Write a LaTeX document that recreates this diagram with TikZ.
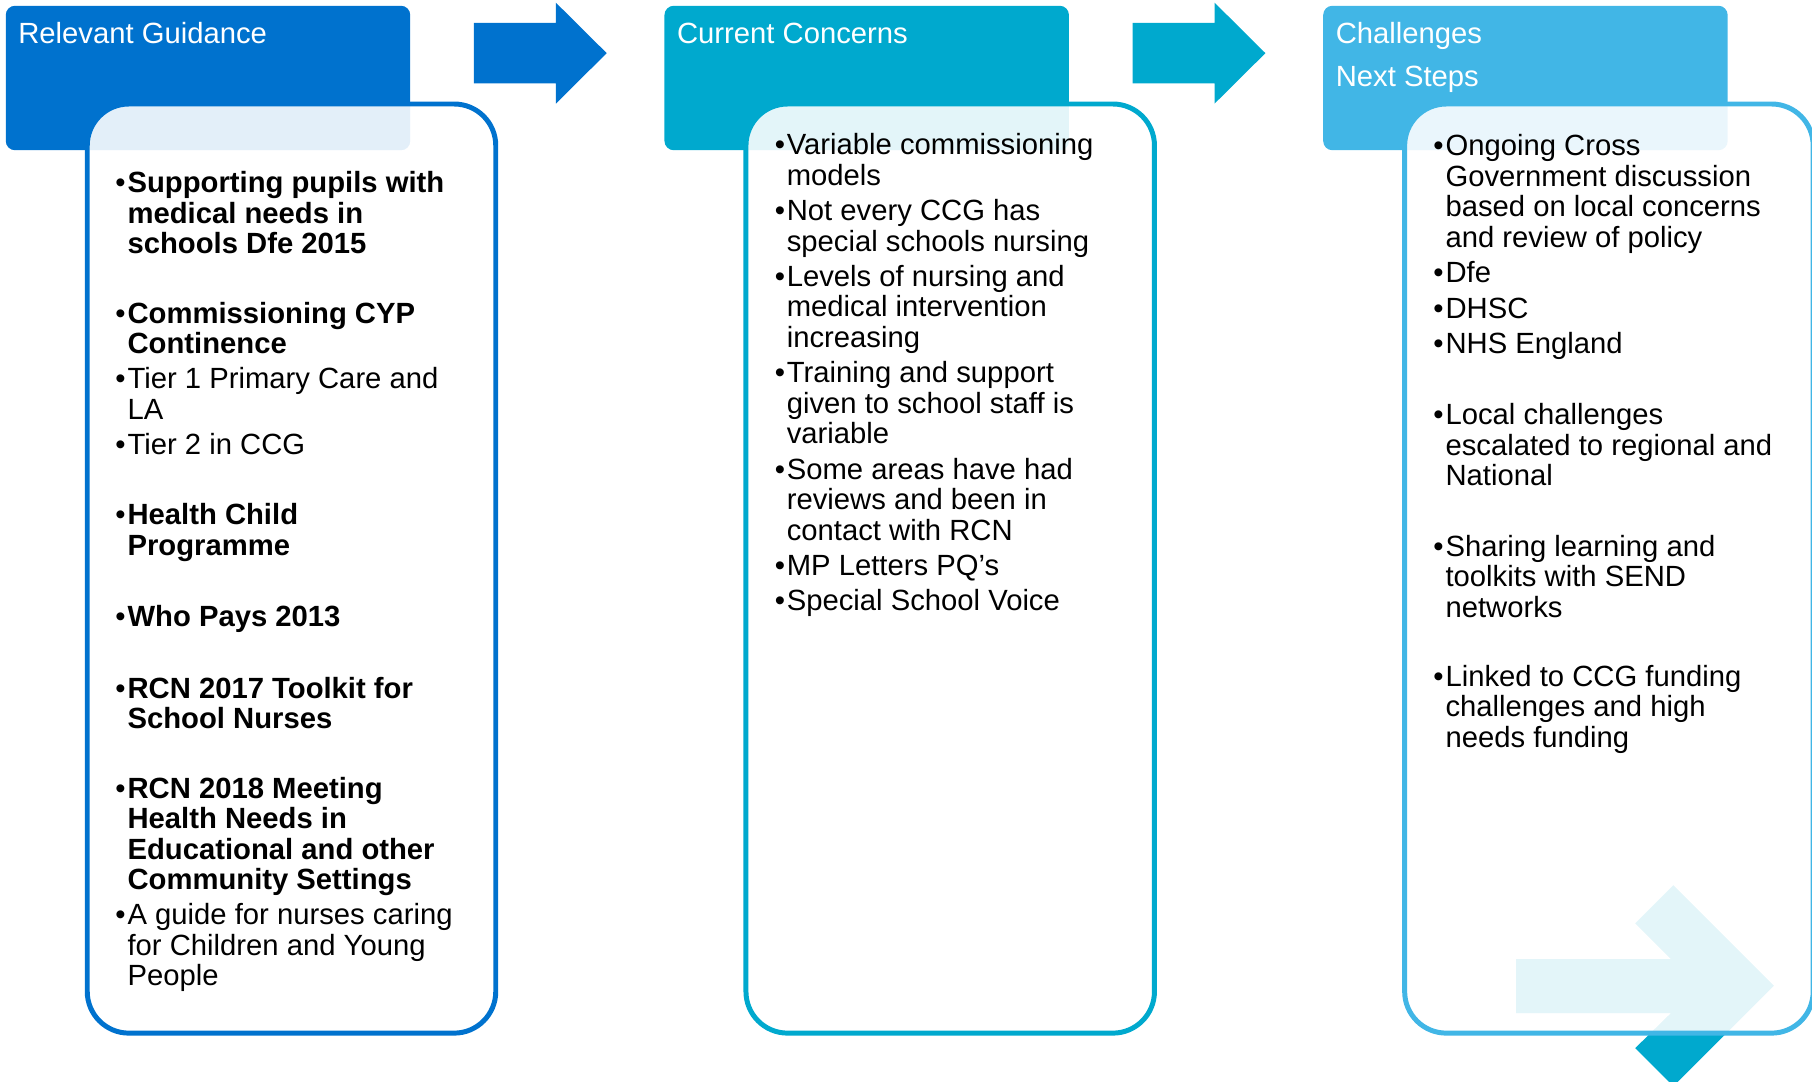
\documentclass[tikz,border=0pt]{standalone}
\usepackage{fontspec}
\setmainfont{Liberation Sans}

\definecolor{guideblue}{HTML}{0072CE}
\definecolor{concerncyan}{HTML}{00A9CE}
\definecolor{stepsky}{HTML}{41B6E6}

\newcommand\bodyfont{\fontsize{12.65pt}{13.2pt}\selectfont}
\newcommand\blt{\leavevmode\llap{•\kern0.8pt}}
\newcommand\itm[1]{\parbox[t]{200pt}{\bodyfont\raggedright\blt#1}}

\begin{document}
\begin{tikzpicture}[
  x=0.5pt, y=-0.5pt,
  hdr/.style={rectangle, rounded corners=4pt, minimum width=175pt,
    minimum height=62.5pt, inner sep=0pt, draw=none},
  hdrtext/.style={anchor=base west, inner sep=0pt, text=white, font=\bodyfont},
  panel/.style={rectangle, rounded corners=18pt, minimum width=176.75pt,
    minimum height=402pt, inner sep=0pt, line width=2.15pt,
    fill=white, fill opacity=0.89, draw opacity=1},
  entry/.style={anchor=base west, inner sep=0pt, yshift=-0.6pt},
]
\useasboundingbox (0,0) rectangle (1568,936);
\clip (0,0) rectangle (1568,936);

% header tabs
\node[hdr, fill=guideblue]   (hg) at (180,67.5)  {};
\node[hdr, fill=concerncyan] (hc) at (750,67.5)  {};
\node[hdr, fill=stepsky]     (hs) at (1320,67.5) {};

% block arrows between the tabs
\fill[guideblue] (410,19.8) -- (481,19.8) -- (481,2.3) -- (525,46)
  -- (481,89.7) -- (481,72.2) -- (410,72.2) -- cycle;
\fill[concerncyan, shift={(570,0)}] (410,19.8) -- (481,19.8) -- (481,2.3) -- (525,46)
  -- (481,89.7) -- (481,72.2) -- (410,72.2) -- cycle;

% arrow mark behind the last panel
\fill[concerncyan] (1312,830) -- (1446,830) -- (1415,799) -- (1448,766)
  -- (1535,853) -- (1448,940) -- (1415,907) -- (1446,876.6)
  -- (1312,876.6) -- cycle;

% content panels
\node[panel, draw=guideblue]   (pg) at (252.25,492)  {};
\node[panel, draw=concerncyan] (pc) at (822.25,492)  {};
\node[panel, draw=stepsky]     (ps) at (1392.25,492) {};

% tab titles
\node[hdrtext] (tg)  at (15.5,37.5)   {Relevant Guidance};
\node[hdrtext] (tc)  at (585.5,37.5)  {Current Concerns};
\node[hdrtext] (ts1) at (1155.5,37.5) {Challenges};
\node[hdrtext] (ts2) at (1155.5,75)   {Next Steps};

% Relevant Guidance
\node[entry] (g1) at (110,165.5) {\itm{\bfseries Supporting pupils with\\medical needs in\\schools Dfe 2015}};
\node[entry] (g2) at (110,278.4) {\itm{\bfseries Commissioning CYP\\Continence}};
\node[entry] (g3) at (110,335.2) {\itm{Tier 1 Primary Care and\\LA}};
\node[entry] (g4) at (110,392.3) {\itm{Tier 2 in CCG}};
\node[entry] (g5) at (110,453)   {\itm{\bfseries Health Child\\Programme}};
\node[entry] (g6) at (110,540.5) {\itm{\bfseries Who Pays 2013}};
\node[entry] (g7) at (110,602.9) {\itm{\bfseries RCN 2017 Toolkit for\\School Nurses}};
\node[entry] (g8) at (110,689.4) {\itm{\bfseries RCN 2018 Meeting\\Health Needs in\\Educational and other\\Community Settings}};
\node[entry] (g9) at (110,799)   {\itm{A guide for nurses caring\\for Children and Young\\People}};

% Current Concerns
\node[entry] (c1) at (680.5,132.7) {\itm{Variable commissioning\\models}};
\node[entry] (c2) at (680.5,189.9) {\itm{Not every CCG has\\special schools nursing}};
\node[entry] (c3) at (680.5,246.7) {\itm{Levels of nursing and\\medical intervention\\increasing}};
\node[entry] (c4) at (680.5,330.2) {\itm{Training and support\\given to school staff is\\variable}};
\node[entry] (c5) at (680.5,413.7) {\itm{Some areas have had\\reviews and been in\\contact with RCN}};
\node[entry] (c6) at (680.5,497.2) {\itm{MP Letters PQ’s}};
\node[entry] (c7) at (680.5,527.4) {\itm{Special School Voice}};

% Challenges / Next Steps
\node[entry] (s1) at (1250.5,133.6) {\itm{Ongoing Cross\\Government discussion\\based on local concerns\\and review of policy}};
\node[entry] (s2) at (1250.5,242.9) {\itm{Dfe}};
\node[entry] (s3) at (1250.5,274)   {\itm{DHSC}};
\node[entry] (s4) at (1250.5,304.9) {\itm{NHS England}};
\node[entry] (s5) at (1250.5,366.3) {\itm{Local challenges\\escalated to regional and\\National}};
\node[entry] (s6) at (1250.5,480.3) {\itm{Sharing learning and\\toolkits with SEND\\networks}};
\node[entry] (s7) at (1250.5,592.8) {\itm{Linked to CCG funding\\challenges and high\\needs funding}};
\end{tikzpicture}
\end{document}
